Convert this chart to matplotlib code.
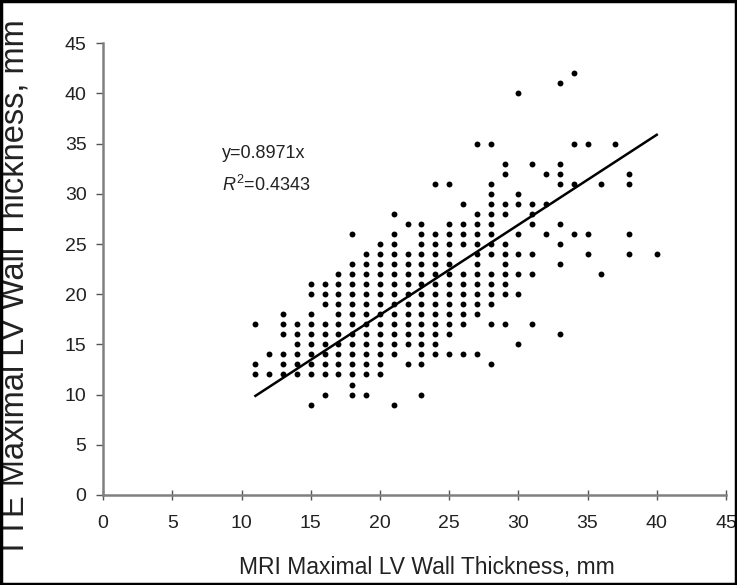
import matplotlib
matplotlib.use("Agg")
import matplotlib.pyplot as plt

# MRI (x) and TTE (y) maximal LV wall thickness, mm, grouped by MRI column
mri = ([11]*3 + [12]*2 + [13]*6 + [14]*6 + [15]*10 + [16]*10 + [17]*11 +
       [18]*15 + [19]*14 + [20]*14 + [21]*15 + [22]*12 + [23]*16 + [24]*14 +
       [25]*14 + [26]*11 + [27]*13 + [28]*15 + [29]*11 + [30]*8 + [31]*7 +
       [32]*3 + [33]*8 + [34]*4 + [35]*3 + [36]*2 + [37]*1 + [38]*4 + [40]*1)
tte = [17, 13, 12,
       14, 12,
       18, 17, 16, 14, 13, 12,
       17, 16, 15, 14, 13, 12,
       21, 20, 18, 17, 16, 15, 14, 13, 12, 9,
       21, 20, 19, 17, 16, 15, 14, 13, 12, 10,
       22, 21, 20, 19, 18, 17, 16, 15, 14, 13, 12,
       26, 23, 22, 21, 20, 19, 18, 17, 16, 15, 14, 13, 12, 11, 10,
       24, 23, 22, 21, 20, 19, 18, 17, 16, 15, 14, 13, 12, 10,
       25, 24, 23, 22, 21, 20, 19, 18, 17, 16, 15, 14, 13, 12,
       28, 26, 25, 24, 23, 22, 21, 20, 19, 18, 17, 16, 15, 14, 9,
       27, 24, 23, 22, 21, 20, 19, 18, 17, 16, 15, 13,
       27, 26, 25, 24, 23, 22, 21, 20, 19, 18, 17, 16, 15, 14, 13, 10,
       31, 26, 25, 24, 23, 22, 21, 20, 19, 18, 17, 16, 15, 14,
       31, 27, 26, 25, 24, 23, 22, 21, 20, 19, 18, 17, 16, 14,
       29, 27, 26, 25, 22, 21, 20, 19, 18, 17, 14,
       35, 28, 27, 26, 25, 24, 23, 22, 21, 20, 19, 18, 14,
       35, 31, 30, 29, 28, 27, 26, 25, 24, 21, 20, 19, 17, 13, 22,
       33, 32, 29, 28, 25, 24, 23, 22, 21, 20, 17,
       40, 30, 29, 26, 24, 22, 20, 15,
       33, 29, 28, 27, 24, 22, 17,
       32, 29, 26,
       41, 33, 32, 31, 27, 25, 23, 16,
       42, 35, 31, 26,
       35, 26, 24,
       31, 22,
       35,
       32, 31, 26, 24,
       24]

slope = 0.8971
r2_text = "0.4343"
fit_x = [11, 40]

x_ticks = [0, 5, 10, 15, 20, 25, 30, 35, 40, 45]
y_ticks = [0, 5, 10, 15, 20, 25, 30, 35, 40, 45]

plt.rcParams['font.family'] = ['Liberation Sans', 'DejaVu Sans']
plt.rcParams['mathtext.fontset'] = 'custom'
plt.rcParams['mathtext.it'] = 'Liberation Sans:italic'
plt.rcParams['mathtext.rm'] = 'Liberation Sans'

fig = plt.figure(figsize=(7.37, 5.85), dpi=100)
ax = fig.add_axes([0.140, 0.154, 0.845, 0.772])

ax.scatter(mri, tte, s=18, color='black', zorder=3, linewidths=0)
ax.plot(fit_x, [slope * v for v in fit_x], color='black', lw=1.8, zorder=2)

ax.set_xlim(0, 45)
ax.set_ylim(0, 45)
ax.set_xticks(x_ticks)
ax.set_yticks(y_ticks)
ax.tick_params(axis='both', labelsize=14, colors='#555555', width=1)
ax.tick_params(axis='x', direction='inout', pad=11, length=7)
ax.tick_params(axis='y', direction='out', pad=7, length=5)
for lab in ax.get_xticklabels() + ax.get_yticklabels():
    lab.set_color('#222222')
for s in ['top', 'right']:
    ax.spines[s].set_visible(False)
for s in ['left', 'bottom']:
    ax.spines[s].set_color('#808080')
    ax.spines[s].set_linewidth(1.8)

ax.set_xlabel("MRI Maximal LV Wall Thickness, mm", fontsize=16.5, color='#222222')
ax.xaxis.set_label_coords(0.52, -0.135)
ax.set_ylabel("TTE Maximal LV Wall Thickness, mm", fontsize=23.5, color='#222222')
ax.yaxis.set_label_coords(-0.116, 0.458)

ax.text(8.6, 33.6, "y=%sx" % slope, fontsize=13, color='#222222')
ax.text(8.6, 30.3, "$R^2$=" + r2_text, fontsize=13, color='#222222')

# black frame around the whole figure
fig.patches.append(plt.Rectangle((0.002, 0.002), 0.996, 0.996, transform=fig.transFigure,
                                 fill=False, edgecolor='black', lw=2.5))

fig.savefig("out.png", dpi=100)
